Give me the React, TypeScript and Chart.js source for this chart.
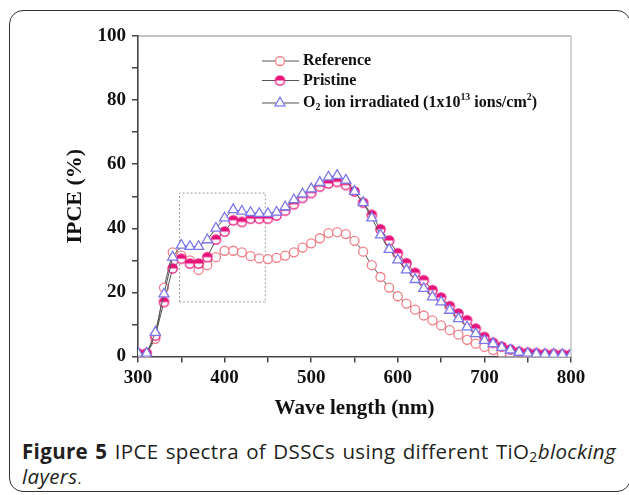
import React, { useEffect, useRef } from 'react';
import { Chart, registerables } from 'chart.js';

Chart.register(...registerables);

// ---- data ----
const wavelengths = [
  300, 310, 320, 330, 340, 350, 360, 370, 380, 390,
  400, 410, 420, 430, 440, 450, 460, 470, 480, 490,
  500, 510, 520, 530, 540, 550, 560, 570, 580, 590,
  600, 610, 620, 630, 640, 650, 660, 670, 680, 690,
  700, 710, 720, 730, 740, 750, 760, 770, 780, 790, 800,
];
const referenceIPCE = [
  1, 1, 5.5, 21.5, 32.5, 31.5, 30, 27, 28.5, 31,
  33, 33, 32.5, 31.3, 30.6, 30.4, 30.8, 31.5, 32.5, 34,
  35.3, 36.9, 38.5, 38.8, 38.2, 36.1, 32.7, 28.5, 24.8, 21.5,
  18.8, 16.5, 14.6, 12.8, 11.3, 9.7, 8.2, 6.8, 5.2, 4.0,
  3.0, 2.0, 1.0, 0.5, 0.3, 0.2, 0.2, 0.1, 0.1, 0.1, 0.1,
];
const pristineIPCE = [
  1, 1, 6.5, 17, 27.5, 30.5, 29, 29, 31, 36.5,
  39, 42.5, 42, 43, 43, 43, 44, 45.5, 47.5, 49.5,
  51, 53, 54, 54.5, 53.5, 51.5, 48, 44.2, 39.7, 36.2,
  32.2, 29.1, 26.1, 23.8, 20.7, 18.4, 15.7, 13.4, 11.3, 8.7,
  6.1, 4.3, 3.1, 2.2, 1.5, 1.2, 1.0, 0.8, 0.8, 0.7, 0.7,
];
const o2IPCE = [
  1, 1, 7.5, 19.5, 31, 34.7, 34.3, 34.3, 36.4, 40,
  43.2, 45.8, 45.3, 44.9, 44.6, 44.6, 45, 46.7, 48.9, 50.7,
  52.3, 54.3, 56, 56.5, 55, 51.5, 48, 43.2, 37.9, 33.4,
  30.1, 27, 24, 21.2, 18.6, 17, 14.4, 11.8, 9.2, 7.1,
  5.0, 4.0, 2.8, 2.0, 1.3, 1.0, 0.8, 0.7, 0.7, 0.6, 0.6,
];
const seriesLabels = ['Reference', 'Pristine', 'O₂ ion irradiated (1x10¹³ ions/cm²)'];
// dotted zoom-box outline in data coordinates (nm, %)
const boxX = [348, 348, 447, 447, 348];
const boxY = [17, 51, 51, 17, 17];
const xMin = 300;
const xMax = 800;
const yMin = 0;
const yMax = 100;
const xAxisTitle = 'Wave length (nm)';
const yAxisTitle = 'IPCE (%)';

const REF_COLOR = '#f3808a';
const PRI_COLOR = '#e8127a';
const O2_COLOR = '#7b78ee';
const LINE_COLOR = '#555555';
const SERIF = '"Liberation Serif", "Times New Roman", serif';

function makeHalfCircle(r: number, color: string): HTMLCanvasElement {
  const c = document.createElement('canvas');
  const s = Math.ceil(r * 2 + 3);
  c.width = s;
  c.height = s;
  const g = c.getContext('2d')!;
  const cx = s / 2;
  const cy = s / 2;
  g.fillStyle = '#fff';
  g.beginPath();
  g.arc(cx, cy, r, 0, Math.PI * 2);
  g.fill();
  g.fillStyle = color;
  g.beginPath();
  g.arc(cx, cy, r, Math.PI, Math.PI * 2);
  g.closePath();
  g.fill();
  g.strokeStyle = color;
  g.lineWidth = 1.3;
  g.beginPath();
  g.arc(cx, cy, r, 0, Math.PI * 2);
  g.stroke();
  return c;
}

const SUB = '₀₁₂₃₄₅₆₇₈₉';
const SUP = '⁰¹²³⁴⁵⁶⁷⁸⁹';

function drawRich(ctx: CanvasRenderingContext2D, text: string, x: number, y: number, size: number) {
  let cx = x;
  const segs: { t: string; k: number }[] = [];
  for (const ch of text) {
    let k = 0;
    let c = ch;
    if (SUB.includes(ch)) { k = 1; c = String(SUB.indexOf(ch)); }
    else if (SUP.includes(ch)) { k = 2; c = String(SUP.indexOf(ch)); }
    const last = segs[segs.length - 1];
    if (last && last.k === k) last.t += c; else segs.push({ t: c, k });
  }
  ctx.textBaseline = 'middle';
  ctx.textAlign = 'left';
  for (const s of segs) {
    const fs = s.k === 0 ? size : size * 0.62;
    const dy = s.k === 0 ? 0 : s.k === 1 ? size * 0.3 : -size * 0.33;
    ctx.font = `bold ${fs}px ${SERIF}`;
    ctx.fillText(s.t, cx, y + dy);
    cx += ctx.measureText(s.t).width;
  }
}

export default function App() {
  const ref = useRef<HTMLCanvasElement | null>(null);

  useEffect(() => {
    if (!ref.current) return;
    const halfCircle = makeHalfCircle(4.6, PRI_COLOR);
    const toXY = (ys: number[]) => wavelengths.map((x, i) => ({ x, y: ys[i] }));

    const frameAndLegend = {
      id: 'frameAndLegend',
      afterDatasetsDraw(chart: any) {
        const { ctx, chartArea: a } = chart;
        ctx.save();
        // top and right border of the plot box
        ctx.lineWidth = 1.2;
        ctx.strokeStyle = '#8a8a8a';
        ctx.beginPath();
        ctx.moveTo(a.left, a.top);
        ctx.lineTo(a.right, a.top);
        ctx.stroke();
        ctx.strokeStyle = '#c4c4c4';
        ctx.lineWidth = 1.5;
        ctx.beginPath();
        ctx.moveTo(a.right, a.top);
        ctx.lineTo(a.right, a.bottom);
        ctx.stroke();

        // legend inside the plot
        const rows = [a.top + 25, a.top + 44.5, a.top + 67];
        const lx0 = a.left + 124;
        const lx1 = a.left + 161;
        const mx = a.left + 142;
        const tx = a.left + 165;
        chart.data.datasets.forEach((ds: any, i: number) => {
          if (i > 2) return;
          const y = rows[i];
          ctx.strokeStyle = LINE_COLOR;
          ctx.lineWidth = 1;
          ctx.beginPath();
          ctx.moveTo(lx0, y);
          ctx.lineTo(lx1, y);
          ctx.stroke();
          if (i === 0) {
            ctx.fillStyle = '#fff';
            ctx.strokeStyle = REF_COLOR;
            ctx.lineWidth = 1.3;
            ctx.beginPath();
            ctx.arc(mx, y, 4.5, 0, Math.PI * 2);
            ctx.fill();
            ctx.stroke();
          } else if (i === 1) {
            ctx.drawImage(halfCircle, mx - halfCircle.width / 2, y - halfCircle.height / 2);
          } else {
            const r = 5.8;
            ctx.fillStyle = '#fff';
            ctx.strokeStyle = O2_COLOR;
            ctx.lineWidth = 1.3;
            ctx.beginPath();
            for (let k = 0; k < 3; k++) {
              const ang = (k * 2 * Math.PI) / 3;
              const px = mx + Math.sin(ang) * r;
              const py = y - Math.cos(ang) * r;
              if (k === 0) ctx.moveTo(px, py); else ctx.lineTo(px, py);
            }
            ctx.closePath();
            ctx.fill();
            ctx.stroke();
          }
          ctx.fillStyle = '#111';
          drawRich(ctx, ds.label, tx, y, 16);
        });
        ctx.restore();
      },
    };

    const chart = new Chart(ref.current, {
      type: 'line',
      data: {
        datasets: [
          {
            label: seriesLabels[0],
            data: toXY(referenceIPCE),
            borderColor: LINE_COLOR,
            borderWidth: 1,
            pointStyle: 'circle',
            pointRadius: 4.5,
            pointBorderWidth: 1.3,
            pointBorderColor: REF_COLOR,
            pointBackgroundColor: '#ffffff',
            order: 2,
          },
          {
            label: seriesLabels[1],
            data: toXY(pristineIPCE),
            borderColor: LINE_COLOR,
            borderWidth: 1,
            pointStyle: halfCircle,
            pointRadius: 4.6,
            order: 1,
          },
          {
            label: seriesLabels[2],
            data: toXY(o2IPCE),
            borderColor: LINE_COLOR,
            borderWidth: 1,
            pointStyle: 'triangle',
            pointRadius: 5.8,
            pointBorderWidth: 1.3,
            pointBorderColor: O2_COLOR,
            pointBackgroundColor: '#ffffff',
            order: 0,
          },
          {
            label: 'box',
            data: boxX.map((x, i) => ({ x, y: boxY[i] })),
            borderColor: '#9a9a9a',
            borderWidth: 1,
            borderDash: [2, 2],
            pointRadius: 0,
            order: 3,
          },
        ],
      },
      options: {
        animation: false,
        responsive: false,
        maintainAspectRatio: false,
        layout: { padding: { left: 0, top: 36, right: 58, bottom: 0 } },
        plugins: {
          legend: { display: false },
          tooltip: { enabled: false },
        },
        scales: {
          x: {
            type: 'linear',
            min: xMin,
            max: xMax,
            afterFit: (s: any) => { s.height = 430 - 356.5; },
            ticks: {
              stepSize: 50,
              autoSkip: false,
              maxRotation: 0,
              padding: 4,
              color: '#111',
              font: { family: SERIF, size: 19, weight: 'bold' },
              callback: (v: any) => (Number(v) % 100 === 0 ? String(v) : ''),
            },
            grid: { drawOnChartArea: false, drawTicks: true, tickLength: 6, color: '#444', lineWidth: 1.5 },
            border: { color: '#444', width: 1.6 },
            title: {
              display: true,
              text: xAxisTitle,
              color: '#111',
              font: { family: SERIF, size: 21, weight: 'bold' },
              padding: { top: 0, bottom: 9 },
            },
          },
          y: {
            type: 'linear',
            min: yMin,
            max: yMax,
            afterFit: (s: any) => { s.width = 138; },
            ticks: {
              stepSize: 10,
              autoSkip: false,
              padding: 6,
              color: '#111',
              font: { family: SERIF, size: 19, weight: 'bold' },
              callback: (v: any) => (Number(v) % 20 === 0 ? String(v) : ''),
            },
            grid: { drawOnChartArea: false, drawTicks: true, tickLength: 6, color: '#444', lineWidth: 1.5 },
            border: { color: '#444', width: 1.6 },
            title: {
              display: true,
              text: yAxisTitle,
              color: '#111',
              font: { family: SERIF, size: 22, weight: 'bold' },
              padding: { top: 62, bottom: 0 },
            },
          },
        },
      },
      plugins: [frameAndLegend],
    } as any);

    return () => chart.destroy();
  }, []);

  const captionStyle: React.CSSProperties = {
    fontFamily: '"Open Sans", "Noto Sans", sans-serif',
    fontSize: 20.5,
    letterSpacing: '0.35px',
    lineHeight: '25px',
    color: '#231f20',
    whiteSpace: 'nowrap',
  };

  return (
    <div style={{ position: 'relative', width: 629, height: 495, overflow: 'hidden', background: '#fff' }}>
      <style>{'body{margin:0;overflow:hidden;background:#fff}'}</style>
      <div
        style={{
          position: 'absolute',
          left: 9,
          top: 10,
          width: 622,
          height: 482,
          border: '1px solid #333',
          borderRadius: 14,
          boxSizing: 'border-box',
        }}
      />
      <canvas
        ref={ref}
        width={629}
        height={430}
        style={{ position: 'absolute', left: 0, top: 0, width: 629, height: 430 }}
      />
      <div style={{ position: 'absolute', left: 22, top: 439, width: 594 }}>
        <div style={{ ...captionStyle, whiteSpace: 'normal', textAlign: 'justify', textAlignLast: 'justify' }}>
          <b>Figure 5</b> IPCE spectra of DSSCs using different TiO
          <sub style={{ fontSize: 14, verticalAlign: '-3px', lineHeight: 0 }}>2</sub>
          <i>blocking</i>
        </div>
        <div style={captionStyle}>
          <i>layers</i>
          <span style={{ fontSize: 14 }}>.</span>
        </div>
      </div>
    </div>
  );
}
